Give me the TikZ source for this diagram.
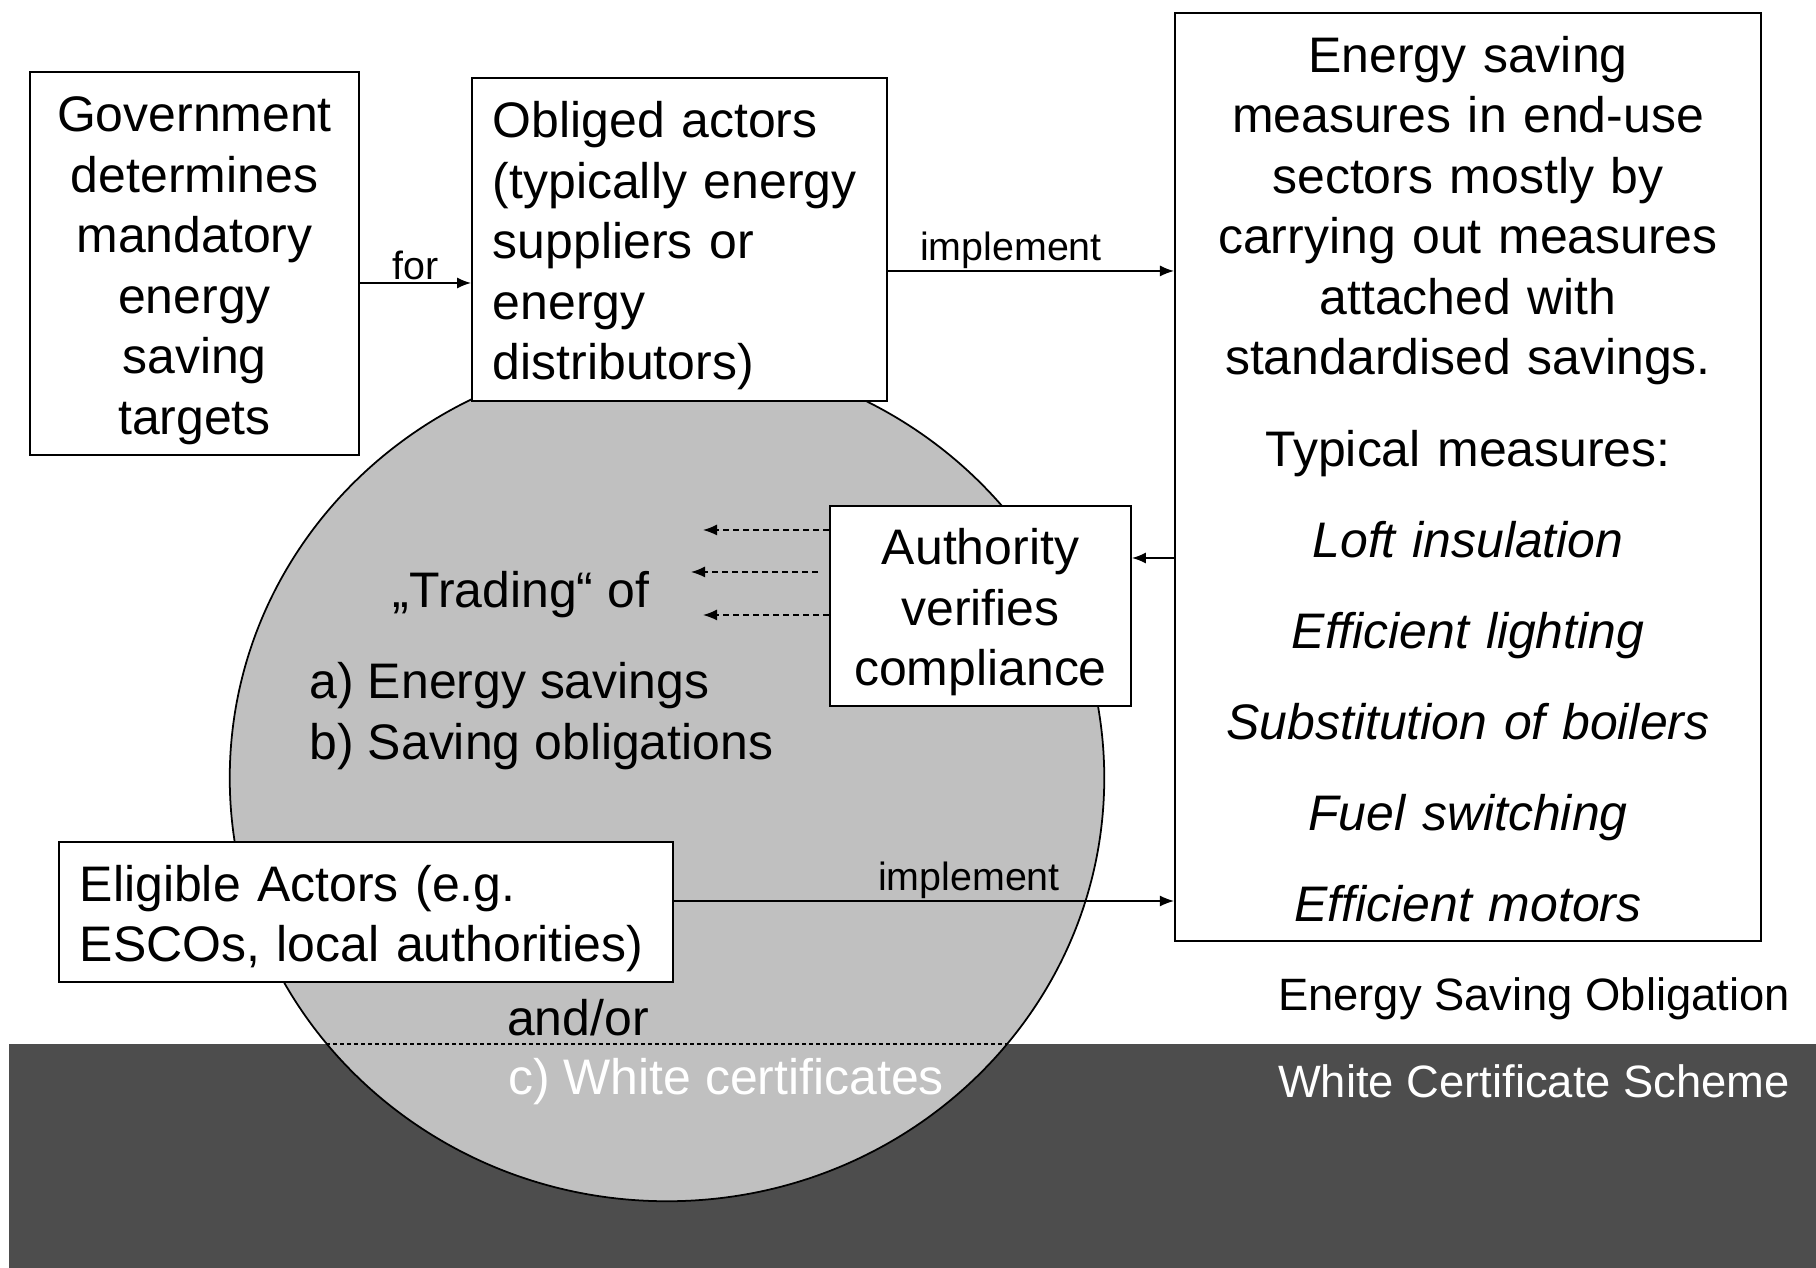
\documentclass[tikz,border=0pt]{standalone}
\usepackage{fontspec}
\setmainfont{Liberation Sans}
\usetikzlibrary{arrows.meta,calc}
\definecolor{bandgray}{RGB}{77,77,77}
\definecolor{discgray}{RGB}{192,192,192}
\newcommand\bigtxt{\fontsize{14.2}{17.21}\selectfont}
\newcommand\midtxt{\fontsize{12.9}{15}\selectfont}
\newcommand\smalltxt{\fontsize{11.2}{13}\selectfont}
\newcommand\boxtop[1][14pt]{\rule{0pt}{#1}}
\tikzset{
  box/.style={draw, fill=white, line width=0.5pt, inner sep=0pt, align=center, font=\bigtxt},
  arr/.style={-{Latex[length=1.4mm,width=1.1mm]}, line width=0.4pt},
  darr/.style={arr, dash pattern=on 0.6mm off 0.4mm},
  lbl/.style={font=\smalltxt, inner sep=0.6pt},
}
\begin{document}
\begin{tikzpicture}[x=0.01cm,y=-0.01cm]
\useasboundingbox (0,0) rectangle (1816,1268);
\fill[bandgray] (9,1044) rectangle (1816,1268);
\draw[fill=discgray, line width=0.5pt] (667,778) ellipse [x radius=4.37cm, y radius=4.23cm];
\draw[dash pattern=on 0.4mm off 0.3mm] (326,1044) -- (1007,1044);

\node[box, minimum width=3.29cm, minimum height=3.83cm] (gov) at (194.5,263.5)
  {\boxtop Government\\determines\\mandatory\\energy\\saving\\targets};
\node[box, text width=3.73cm, inner xsep=0.21cm, minimum height=3.23cm, align=left] (obliged) at (679.5,239.5)
  {\boxtop Obliged actors\\(typically energy\\suppliers or\\energy\\distributors)};
\node[box, text width=5.6cm, minimum width=5.86cm, minimum height=9.28cm] (measures) at (1468,477)
  {\boxtop[11.4pt]Energy saving\\measures in end-use\\sectors mostly by\\carrying out measures\\attached with\\standardised savings.\\[0.305cm]
   Typical measures:\\[0.305cm]
   \textit{Loft insulation}\\[0.305cm]
   \textit{Efficient lighting}\\[0.305cm]
   \textit{Substitution of boilers}\\[0.305cm]
   \textit{Fuel switching}\\[0.305cm]
   \textit{Efficient motors}};
\node[box, minimum width=3.01cm, minimum height=2.0cm] (authority) at (980.5,606)
  {\boxtop Authority\\verifies\\compliance};
\node[box, text width=5.72cm, inner xsep=0.21cm, minimum height=1.4cm, align=left] (eligible) at (366,912)
  {\boxtop Eligible Actors (e.g.\\ESCOs, local authorities)};

\node[font=\bigtxt] (trading) at (521,595) {„Trading“ of};
\node[font=\bigtxt, align=left, anchor=west, inner sep=0pt] (kinds) at (309,716)
  {a) Energy savings\\b) Saving obligations};
\node[font=\bigtxt] (andor) at (578,1018) {and/or};
\node[font=\bigtxt, text=white] (wcert) at (726,1082) {c) White certificates};
\node[font=\midtxt] (eso) at (1534,999) {Energy Saving Obligation};
\node[font=\midtxt, text=white] (wcs) at (1534,1081) {White Certificate Scheme};

\coordinate (forlvl) at (0,283);
\coordinate (implvl) at (0,271);
\coordinate (chklvl) at (0,558);
\coordinate (elilvl) at (0,901);
\draw[arr] (gov.east |- forlvl) -- (obliged.west |- forlvl) node[lbl, midway, above] {for};
\draw[arr] (obliged.east |- implvl) -- (measures.west |- implvl) node[lbl, pos=0.43, above] {implement};
\draw[arr] (measures.west |- chklvl) -- (authority.east |- chklvl);
\draw[arr] (eligible.east |- elilvl) -- (measures.west |- elilvl) node[lbl, pos=0.59, above] {implement};

\foreach \i/\y/\x in {1/530/703, 2/572/691, 3/615/703}
  \coordinate (tr\i) at (\x,\y);
\draw[darr] (authority.west |- tr1) -- (tr1);
\draw[darr] ($(authority.west |- tr2)+(-11,0)$) -- (tr2);
\draw[darr] (authority.west |- tr3) -- (tr3);
\end{tikzpicture}
\end{document}
